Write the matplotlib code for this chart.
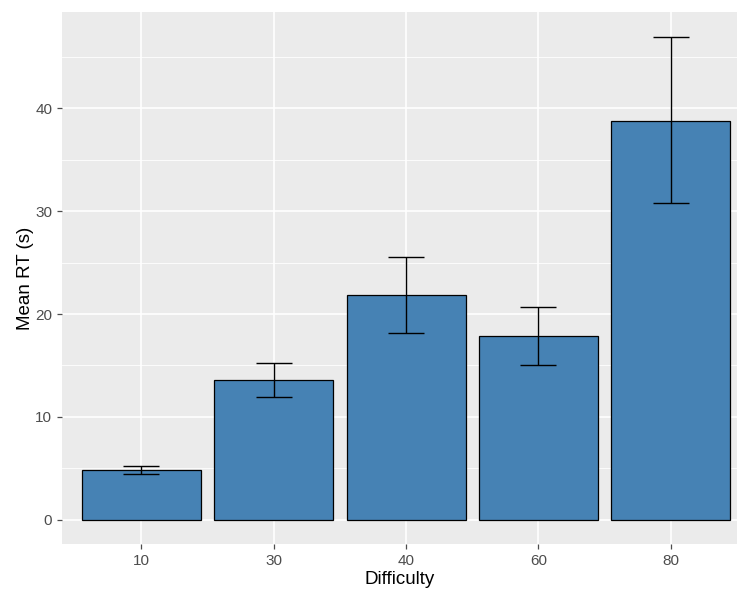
import matplotlib
matplotlib.use("Agg")
import matplotlib.pyplot as plt
import numpy as np

plt.rcParams['font.family'] = ['Liberation Sans', 'DejaVu Sans']

difficulty = ["10", "30", "40", "60", "80"]
mean_rt = [4.82, 13.6, 21.8, 17.85, 38.8]
err_low = [4.42, 11.9, 18.2, 15.05, 30.8]
err_high = [5.22, 15.25, 25.5, 20.7, 46.95]

W, H = 737, 592
fig = plt.figure(figsize=(W / 100, H / 100), dpi=100)
ax = fig.add_axes([62 / W, (H - 544) / H, (737 - 62) / W, (544 - 12) / H])

ax.set_facecolor("#EBEBEB")
for s in ax.spines.values():
    s.set_visible(False)

x = np.arange(1, len(difficulty) + 1)
ax.set_xlim(0.4, 5.5)
ax.set_ylim(-2.35, 49.35)

# grid lines
for yv in [5, 15, 25, 35, 45]:
    ax.axhline(yv, color="white", lw=0.6, zorder=0)
for yv in [0, 10, 20, 30, 40]:
    ax.axhline(yv, color="white", lw=1.2, zorder=0)
for xv in x:
    ax.axvline(xv, color="white", lw=1.2, zorder=0)

ax.bar(x, mean_rt, width=0.9, color="#4682B4", edgecolor="black", linewidth=0.9, zorder=2)

mean_arr = np.array(mean_rt)
yerr = [mean_arr - np.array(err_low), np.array(err_high) - mean_arr]
ax.errorbar(x, mean_rt, yerr=yerr, fmt="none", ecolor="black", elinewidth=1.0,
            capsize=13, capthick=1.0, zorder=3)

ax.set_xticks(x)
ax.set_xticklabels(difficulty)
ax.set_yticks([0, 10, 20, 30, 40])
ax.tick_params(axis="both", colors="#4D4D4D", labelsize=11, length=3.5, width=0.9)
for lab in ax.get_xticklabels() + ax.get_yticklabels():
    lab.set_color("#4D4D4D")

ax.set_xlabel("Difficulty", fontsize=13.5, color="black", labelpad=2)
ax.set_ylabel("Mean RT (s)", fontsize=13.5, color="black", labelpad=1)

fig.savefig("out.png", dpi=100)
